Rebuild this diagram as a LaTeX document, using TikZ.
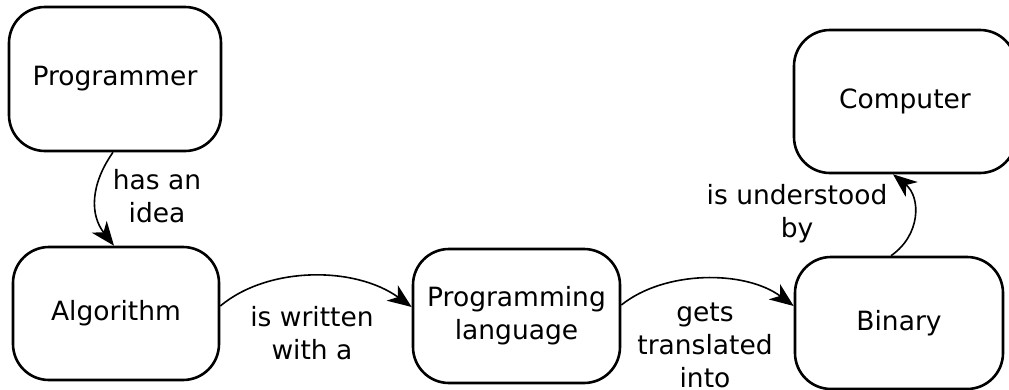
\documentclass[tikz,border=0pt]{standalone}
\usepackage{fontspec}
\setmainfont{DejaVu Sans}
\usetikzlibrary{arrows.meta,calc}
\begin{document}
\begin{tikzpicture}[x=1pt,y=-1pt,
  box/.style={draw=black, line width=2.6pt, rounded corners=36pt, fill=white,
    align=center, inner sep=0pt, font=\fontsize{26.5}{33}\selectfont},
  lbl/.style={align=center, inner sep=0pt, font=\fontsize{26.5}{33}\selectfont},
  conn/.style={draw=black, line width=1.6pt, -{Stealth[length=24pt,width=19pt,inset=7pt]}}]
\useasboundingbox (0,0) rectangle (1009,389);
\node[box, minimum width=212pt, minimum height=144pt] (prog) at (115,79) {Programmer};
\node[box, minimum width=206pt, minimum height=133pt] (alg) at (116,313.5) {Algorithm};
\node[box, minimum width=207pt, minimum height=134pt] (pl) at (516.5,316) {Programming\\language};
\node[box, minimum width=208pt, minimum height=132pt] (bin) at (899,323) {Binary};
\node[box, minimum width=222pt, minimum height=143pt] (comp) at (905,101.5) {Computer};

\node[lbl] (l1) at (157,196) {has an\\idea};
\node[lbl] (l2) at (312,333) {is written\\with a};
\node[lbl] (l3) at (705,345) {gets\\translated\\into};
\node[lbl] (l4) at (797,214) {is understood\\by};

\draw[conn] ([xshift=-2pt]prog.south) .. controls (90,185) and (90,215) .. ([xshift=-2pt]alg.north);
\draw[conn] ([yshift=7.5pt]alg.east) .. controls (268,266) and (355,266) .. ([yshift=9pt]pl.west);
\draw[conn] ([yshift=11pt]pl.east) .. controls (665,270) and (745,270) .. ([yshift=17pt]bin.west);
\draw[conn] ([xshift=-8pt]bin.north) .. controls (921,235) and (921,197) .. ([xshift=-12pt]comp.south);
\end{tikzpicture}
\end{document}
